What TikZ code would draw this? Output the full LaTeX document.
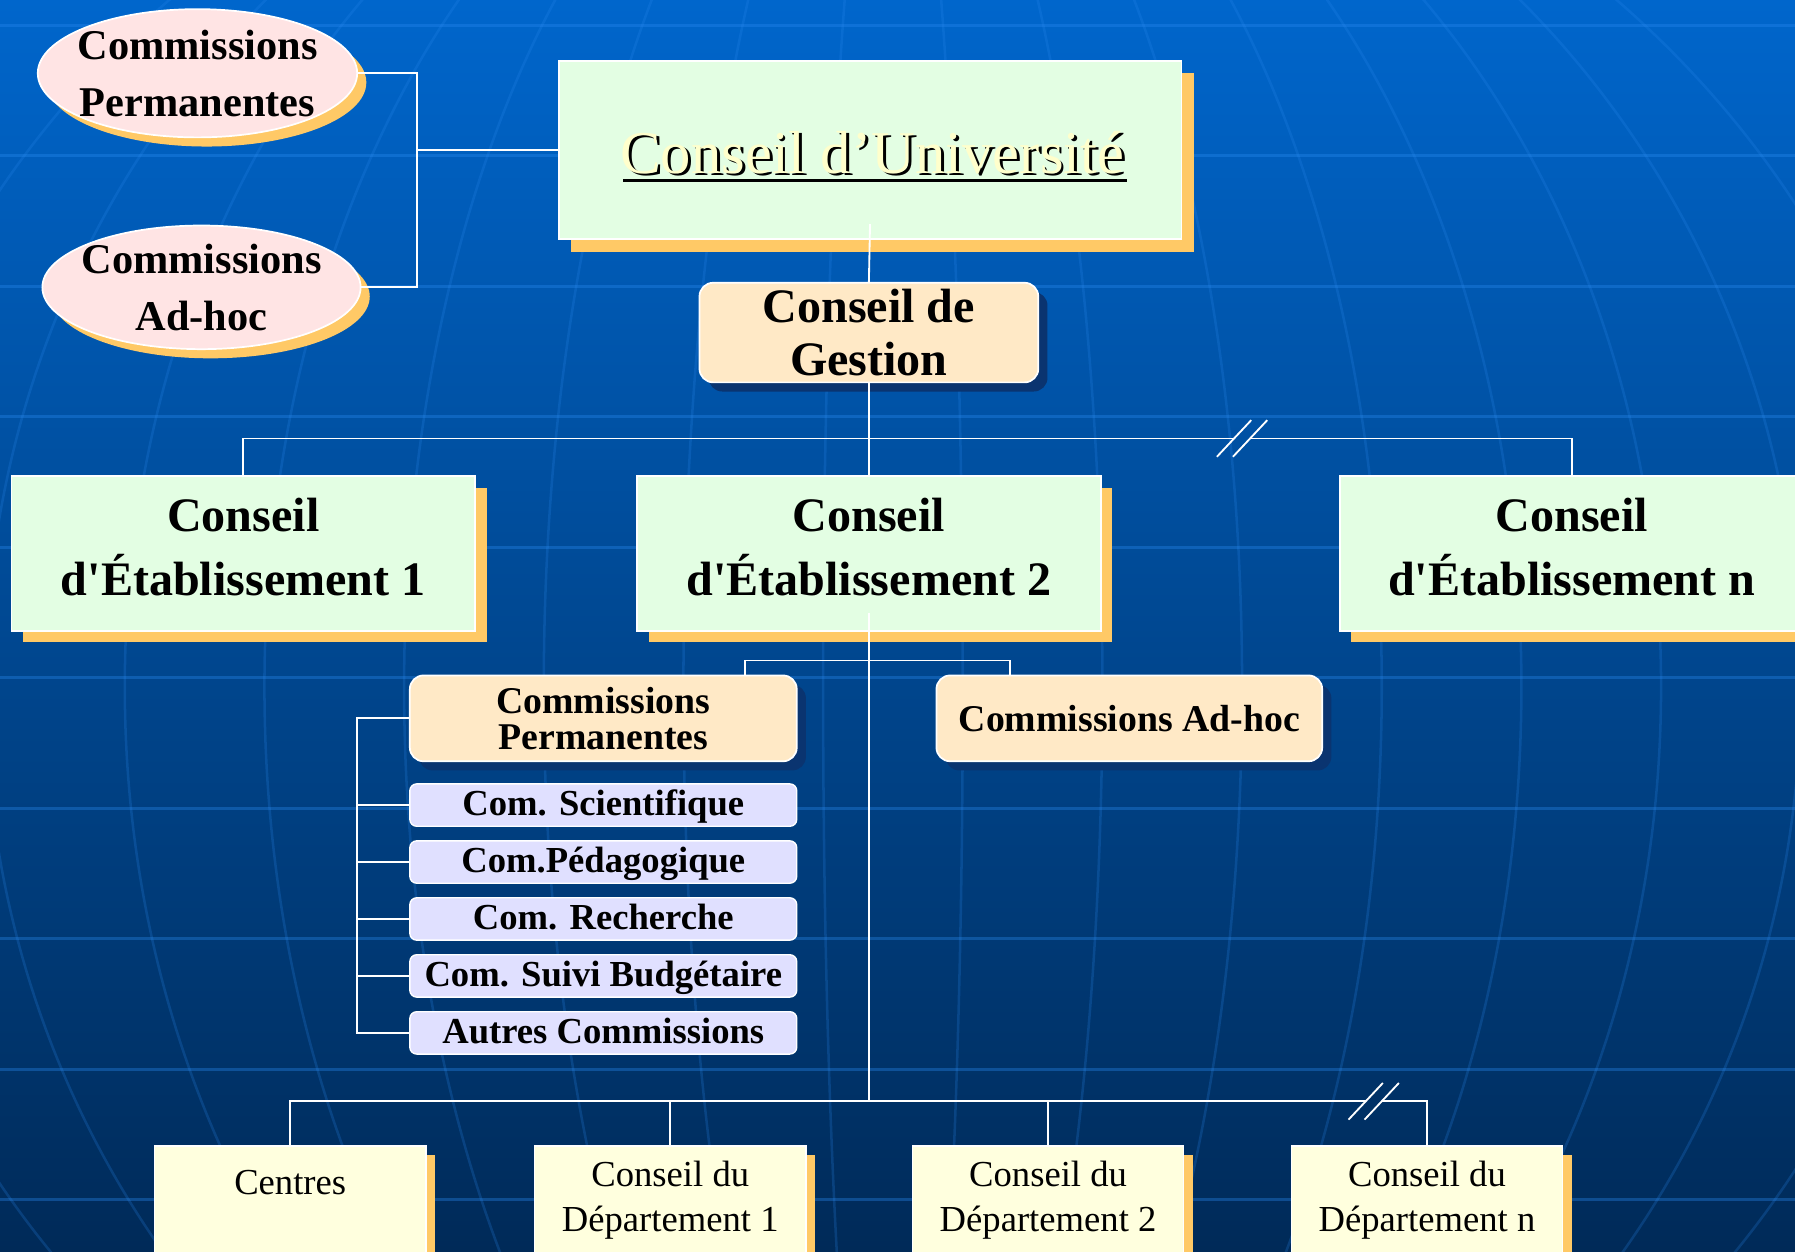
\documentclass[tikz,border=0pt]{standalone}
\usepackage{fontspec}
\setmainfont{Liberation Serif}[Ligatures=TeXOff]
\usetikzlibrary{shapes.geometric,shadows}
\definecolor{bgtop}{HTML}{0066CC}
\definecolor{bgbottom}{HTML}{002A58}
\definecolor{gridblue}{HTML}{2A8AF0}
\definecolor{greenfill}{HTML}{E3FEE3}
\definecolor{peachfill}{HTML}{FFE9C6}
\definecolor{pinkfill}{HTML}{FFE4E4}
\definecolor{lavfill}{HTML}{E0E0FF}
\definecolor{creamfill}{HTML}{FFFFDE}
\definecolor{cutext}{HTML}{FFFFCC}
\definecolor{shorange}{HTML}{FFC966}
\definecolor{shnavy}{HTML}{0A3470}
\newcommand\ellfnt{\fontsize{37}{50}\selectfont\bfseries}
\newcommand\cufnt{\fontsize{53}{60}\selectfont}
\newcommand\cgfnt{\fontsize{42}{46}\selectfont\bfseries}
\newcommand\cefnt{\fontsize{42}{56}\selectfont\bfseries}
\newcommand\comfnt{\fontsize{33}{31}\selectfont\bfseries}
\newcommand\subfnt{\fontsize{32}{32}\selectfont\bfseries}
\newcommand\depfnt{\fontsize{32}{39}\selectfont}
\begin{document}
\begin{tikzpicture}[x=1pt,y=-1pt,
    link/.style={draw=white,line width=1.6pt},
    gridline/.style={draw=gridblue,line width=2.4pt,opacity=.35},
    meridian/.style={draw=gridblue,line width=2.2pt,opacity=.22},
    oshade/.style={general shadow={fill=shorange,shadow xshift=#1,shadow yshift=-#1}},
    nshade/.style={general shadow={fill=shnavy,shadow xshift=#1,shadow yshift=-#1}},
    ellnode/.style={ellipse,draw=white,line width=1.5pt,fill=pinkfill,inner xsep=-30pt,
        inner ysep=-10pt,align=center,font=\ellfnt,oshade=8pt},
    cubox/.style={rectangle,draw=white,line width=1.5pt,fill=greenfill,oshade=11pt,
        minimum width=544,minimum height=156},
    cebox/.style={rectangle,draw=white,line width=1.5pt,fill=greenfill,oshade=10pt,
        minimum width=405,minimum height=135,align=center,font=\cefnt,text depth=12pt},
    pchbox/.style={rectangle,rounded corners=12pt,draw=white,line width=1.5pt,fill=peachfill,
        nshade=8pt,align=center},
    subbox/.style={rectangle,rounded corners=6pt,draw=white,line width=1.2pt,fill=lavfill,
        minimum width=338,minimum height=37,inner sep=0pt,font=\subfnt,text depth=4pt},
    deptbox/.style={rectangle,draw=white,line width=1.2pt,fill=creamfill,oshade=8pt,
        minimum width=237,minimum height=130},
    deptlbl/.style={anchor=north,align=center,font=\depfnt,inner sep=0pt}]
    \useasboundingbox (0,0) rectangle (1568,1093);
    \begin{scope}
    \clip (0,0) rectangle (1568,1093);
    \fill[top color=bgtop,bottom color=bgbottom] (0,0) rectangle (1568,1093);
    \foreach \gy in {22,136,...,1048}
    \draw[gridline] (0,\gy) -- (1568,\gy);
    \foreach \r in {61,183,...,915}
    \draw[meridian] (780,600) ellipse [x radius=\r,y radius=830];

    \node[ellnode,minimum width=279,minimum height=112] (cpE) at (172.5,64) {Commissions\\Permanentes};
    \node[ellnode,minimum width=278,minimum height=108] (chE) at (176,251) {Commissions\\Ad-hoc};

    \node[cubox] (cu) at (760,131) {};
    \node[font=\cufnt,text=black,inner sep=0pt] (cush) at (764.5,135.5) {Conseil d’Université};
    \node[font=\cufnt,text=cutext,inner sep=0pt] (cutxt) at (762,133) {Conseil d’Université};
    \draw[line width=3pt] ([yshift=-4pt]cush.base west) -- ([yshift=-4pt]cush.base east);

    \node[pchbox,minimum width=296,minimum height=87,font=\cgfnt] (cg) at (759,290.5) {Conseil de\\Gestion};

    \node[cebox] (ce1) at (212.5,483.5) {Conseil\\d'Établissement 1};
    \node[cebox] (ce2) at (759,483.5) {Conseil\\d'Établissement 2};
    \node[cebox] (cen) at (1373,483.5) {Conseil\\d'Établissement n};

    \node[pchbox,minimum width=338,minimum height=75,font=\comfnt] (cp) at (527,627.5) {Commissions\\Permanentes};
    \node[pchbox,minimum width=337,minimum height=75,font=\comfnt] (ca) at (986.5,627.5) {Commissions Ad-hoc};
    \foreach \lbl [count=\i] in {Com. Scientifique,Com.Pédagogique,Com. Recherche,Com. Suivi Budgétaire,Autres Commissions}
    \node[subbox] (k\i) at (527,{653.5+49.75*\i}) {\lbl};

    \node[deptbox,label={[deptlbl,yshift=-22pt]north:Centres}] (cent) at (253.5,1066) {};
    \node[deptbox,label={[deptlbl,yshift=-14pt]north:Conseil du\\Département 1}] (dept1) at (585.5,1066) {};
    \node[deptbox,label={[deptlbl,yshift=-14pt]north:Conseil du\\Département 2}] (dept2) at (915.5,1066) {};
    \node[deptbox,label={[deptlbl,yshift=-14pt]north:Conseil du\\Département n}] (deptn) at (1246.5,1066) {};

    \coordinate (jU) at (364,131);
    \draw[link] (cpE.east) -| (jU) |- (chE.east);
    \draw[link] (jU) -- (cu.west);
    \draw[link] ([yshift=14pt]cu.south) -- (cg.north);
    \draw[link] (cg.south) -- (ce2.north);
    \coordinate (s1a) at (1078,383);
    \coordinate (s1b) at (1092,383);
    \draw[link] (ce1.north) |- (s1a);
    \draw[link] (s1b) -| (cen.north);
    \draw[link] (s1a) ++(-15,16) -- ++(30,-32);
    \draw[link] (s1b) ++(-15,16) -- ++(30,-32);

    \coordinate (b2l) at (651,577);
    \coordinate (b2r) at (882,577);
    \draw[link] (b2l |- cp.north) -- (b2l) -- (b2r) -- (b2r |- ca.north);
    \coordinate (lb) at (312,0);
    \draw[link] (cp.west) -| (lb |- k5.west) -- (k5.west);
    \foreach \i in {1,...,4}
    \draw[link] (k\i.west) -- (k\i.west -| lb);

    \coordinate (b3) at (759,962);
    \draw[link] ([yshift=16pt]ce2.south) -- (b3);
    \coordinate (s2a) at (1193,962);
    \coordinate (s2b) at (1207,962);
    \draw[link] (cent.north) |- (s2a);
    \draw[link] (s2b) -| (deptn.north);
    \foreach \d in {dept1,dept2}
    \draw[link] (\d.north) -- (\d.north |- b3);
    \draw[link] (s2a) ++(-15,16) -- ++(30,-32);
    \draw[link] (s2b) ++(-15,16) -- ++(30,-32);
    \end{scope}
\end{tikzpicture}
\end{document}
